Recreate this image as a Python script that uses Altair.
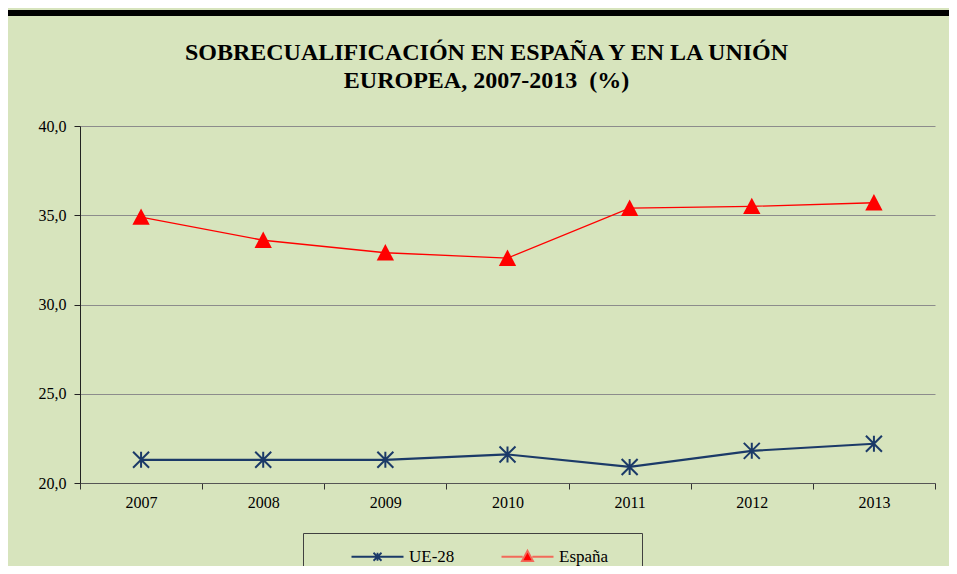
import altair as alt
import pandas as pd

years = ["2007", "2008", "2009", "2010", "2011", "2012", "2013"]
ue28 = [21.3, 21.3, 21.3, 21.6, 20.9, 21.8, 22.2]
espana = [34.9, 33.6, 32.9, 32.6, 35.4, 35.5, 35.7]
series_names = ["UE-28", "España"]
y_ticks = [20, 25, 30, 35, 40]

BG = "#D7E4BD"
NAVY = "#1B3A68"
RED = "#FF0000"
SERIF = "Liberation Serif"

rows = []
for yr, v in zip(years, ue28):
    rows.append({"year": yr, "value": v, "series": "UE-28"})
for yr, v in zip(years, espana):
    rows.append({"year": yr, "value": v, "series": "España"})
df = pd.DataFrame(rows)

ASTER = "M0,-1L0,1M-1,-1L1,1M-1,1L1,-1"
TRI = "M0,-1L1,0.9L-1,0.9Z"

x_enc = alt.X("year:O", bandPosition=0.5,
              scale=alt.Scale(type="band", paddingInner=0, paddingOuter=0),
              axis=alt.Axis(title=None, labelAngle=0, tickBand="extent", tickSize=6,
                            labelFont=SERIF, labelFontSize=16, labelColor="#000",
                            domainColor="#555", tickColor="#333", labelPadding=5,
                            grid=False))
y_enc = alt.Y("value:Q", scale=alt.Scale(domain=[20, 40], nice=False, zero=False),
              axis=alt.Axis(title=None, values=y_ticks, tickSize=6, labelPadding=8,
                            labelFont=SERIF, labelFontSize=16, labelColor="#000",
                            labelExpr="replace(format(datum.value, '.1f'), '.', ',')",
                            domainColor="#222", tickColor="#222",
                            grid=True, gridColor="#8C8C8C", gridWidth=1))

base = alt.Chart(df).encode(x=x_enc, y=y_enc)

line_ue = base.transform_filter(alt.datum.series == "UE-28").mark_line(color=NAVY, strokeWidth=2.2)
line_es = base.transform_filter(alt.datum.series == "España").mark_line(color=RED, strokeWidth=1.3)
pts_ue = base.transform_filter(alt.datum.series == "UE-28").mark_point(
    shape=ASTER, size=256, filled=False, color=NAVY, strokeWidth=2, opacity=1)
pts_es = base.transform_filter(alt.datum.series == "España").mark_point(
    shape=TRI, size=300, filled=True, color=RED, opacity=1)

LEG_UE = "M-6.5,0H6.5M0,-1V1M-1,-1L1,1M-1,1L1,-1"
LEG_ES = "M-6.5,0H-1.2M1.2,0H6.5M0,-1.5L1.4,1.1L-1.4,1.1Z"

legend = alt.Legend(title=".", titleOrient="right", titleColor=BG, titleFontSize=8,
                    titlePadding=16,
                    orient="none", legendX=223, legendY=407,
                    direction="horizontal", columns=2, padding=15,
                    strokeColor="#404040", fillColor=BG,
                    symbolSize=64, symbolOffset=51, labelOffset=23,
                    columnPadding=13, symbolStrokeWidth=1.8,
                    labelFont=SERIF, labelFontSize=17, labelColor="#000")

leg_layer = alt.Chart(df).transform_filter("false").mark_point(filled=False, opacity=1, strokeWidth=1.8).encode(
    color=alt.Color("series:N", scale=alt.Scale(domain=series_names, range=[NAVY, "#F26A5A"]), legend=legend),
    fill=alt.Fill("series:N", scale=alt.Scale(domain=series_names, range=["transparent", RED]), legend=legend),
    shape=alt.Shape("series:N", scale=alt.Scale(domain=series_names, range=[LEG_UE, LEG_ES]), legend=legend),
)

bar = alt.Chart(alt.Data(values=[{"a": 1}])).mark_rule(color="#000", strokeWidth=6).encode(
    x=alt.value(-75), x2=alt.value(869), y=alt.value(-113))

chart = alt.layer(bar, line_ue, line_es, pts_ue, pts_es, leg_layer).properties(
    width=855, height=357,
    autosize=alt.AutoSizeParams(type="none"),
    padding={"left": 72, "top": 118, "right": 14, "bottom": 83},
    background=BG,
    title=alt.TitleParams(["SOBRECUALIFICACIÓN EN ESPAÑA Y EN LA UNIÓN", "EUROPEA, 2007-2013\u00a0 (%)"],
                          font=SERIF, fontSize=24, fontWeight="bold", color="#000",
                          anchor="middle", frame="group", dx=-21, offset=-83, lineHeight=28),
).configure_view(stroke=None)

chart.save("out.html", embed_options={"renderer": "svg", "actions": False})
